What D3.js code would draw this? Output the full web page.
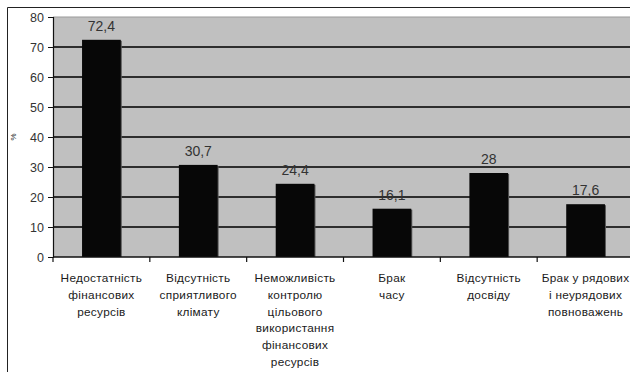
<!DOCTYPE html>
<html>
<head>
<meta charset="utf-8">
<script src="https://cdn.jsdelivr.net/npm/d3@7"></script>
<style>
  html, body { margin: 0; padding: 0; background: #fff; }
  svg { display: block; font-family: "Liberation Sans", Arial, sans-serif; }
</style>
</head>
<body>
<svg id="chart" width="630" height="372"></svg>
<script>
// Barriers reported, share of respondents (%)
const categories = [
  ["Недостатність", "фінансових", "ресурсів"],
  ["Відсутність", "сприятливого", "клімату"],
  ["Неможливість", "контролю", "цільового", "використання", "фінансових", "ресурсів"],
  ["Брак", "часу"],
  ["Відсутність", "досвіду"],
  ["Брак у рядових", "і неурядових", "повноважень"]
];
const values = [72.4, 30.7, 24.4, 16.1, 28, 17.6];
const valueLabels = ["72,4", "30,7", "24,4", "16,1", "28", "17,6"];
const yTicks = [0, 10, 20, 30, 40, 50, 60, 70, 80];
const yAxisTitle = "%";

const svg = d3.select("#chart");
const W = 630, H = 372;
const plot = { left: 53, right: 634, top: 17, bottom: 257 };

// outer frame
svg.append("path")
  .attr("d", `M7.5,${H} V7.5 H${W}`)
  .attr("fill", "none").attr("stroke", "#222").attr("stroke-width", 1);

const x = d3.scaleBand()
  .domain(categories.map((d, i) => i))
  .range([plot.left, plot.right])
  .paddingInner(0.6).paddingOuter(0.3);

const y = d3.scaleLinear().domain([0, 80]).range([plot.bottom, plot.top]);

// plot background
svg.append("rect")
  .attr("x", plot.left).attr("y", plot.top)
  .attr("width", plot.right - plot.left).attr("height", plot.bottom - plot.top)
  .attr("fill", "#c0c0c0");

// top border of plot
svg.append("line")
  .attr("x1", plot.left).attr("x2", plot.right)
  .attr("y1", y(80)).attr("y2", y(80))
  .attr("stroke", "#999").attr("stroke-width", 1);

// gridlines
svg.append("g").selectAll("line")
  .data(yTicks.filter(t => t > 0 && t < 80))
  .join("line")
  .attr("x1", plot.left).attr("x2", plot.right)
  .attr("y1", d => y(d)).attr("y2", d => y(d))
  .attr("stroke", "#2e2e2e").attr("stroke-width", 1.8);

// bars with a soft dark edge
const bars = svg.append("g");
bars.selectAll("rect.shadow")
  .data(values)
  .join("rect").attr("class", "shadow")
  .attr("x", (d, i) => x(i) + 1)
  .attr("y", d => y(d) + 1)
  .attr("width", x.bandwidth())
  .attr("height", d => y(0) - y(d) - 1)
  .attr("fill", "#555");
bars.selectAll("rect.bar")
  .data(values)
  .join("rect").attr("class", "bar")
  .attr("x", (d, i) => x(i))
  .attr("y", d => y(d))
  .attr("width", x.bandwidth())
  .attr("height", d => y(0) - y(d))
  .attr("fill", "#070707");

// value labels
svg.append("g").selectAll("text")
  .data(values)
  .join("text")
  .attr("x", (d, i) => x(i) + x.bandwidth() / 2)
  .attr("y", d => y(d) - 9)
  .attr("text-anchor", "middle")
  .attr("font-size", 14)
  .attr("fill", "#333")
  .text((d, i) => valueLabels[i]);

// y axis
const yAxis = d3.axisLeft(y).tickValues(yTicks).tickSize(5).tickPadding(4);
const gy = svg.append("g").attr("transform", `translate(${plot.left},0)`).call(yAxis);
gy.select(".domain").attr("stroke", "#111").attr("stroke-width", 1.2);
gy.selectAll(".tick line").attr("stroke", "#111");
gy.selectAll(".tick text").attr("font-size", 12.5).attr("fill", "#333")
  .attr("font-family", "Liberation Sans, Arial, sans-serif");

// x axis line and category ticks
svg.append("line")
  .attr("x1", plot.left).attr("x2", plot.right)
  .attr("y1", y(0)).attr("y2", y(0))
  .attr("stroke", "#111").attr("stroke-width", 1.4);
const step = x.step();
svg.append("g").selectAll("line")
  .data(d3.range(categories.length + 1))
  .join("line")
  .attr("x1", i => plot.left + i * step).attr("x2", i => plot.left + i * step)
  .attr("y1", y(0)).attr("y2", y(0) + 5)
  .attr("stroke", "#111").attr("stroke-width", 1.2);

// category labels
const cat = svg.append("g").selectAll("text")
  .data(categories)
  .join("text")
  .attr("text-anchor", "middle")
  .attr("font-size", 11.8)
  .attr("letter-spacing", 0.3)
  .attr("fill", "#1a1a1a");
cat.selectAll("tspan")
  .data((d, i) => d.map(line => ({ line, i })))
  .join("tspan")
  .attr("x", d => x(d.i) + x.bandwidth() / 2)
  .attr("y", (d, j) => 282 + j * 16.8)
  .text(d => d.line);

// y axis title
svg.append("text")
  .attr("transform", `translate(16,${(plot.top + plot.bottom) / 2}) rotate(-90)`)
  .attr("text-anchor", "middle")
  .attr("font-size", 8)
  .attr("fill", "#222")
  .text(yAxisTitle);
</script>
</body>
</html>
